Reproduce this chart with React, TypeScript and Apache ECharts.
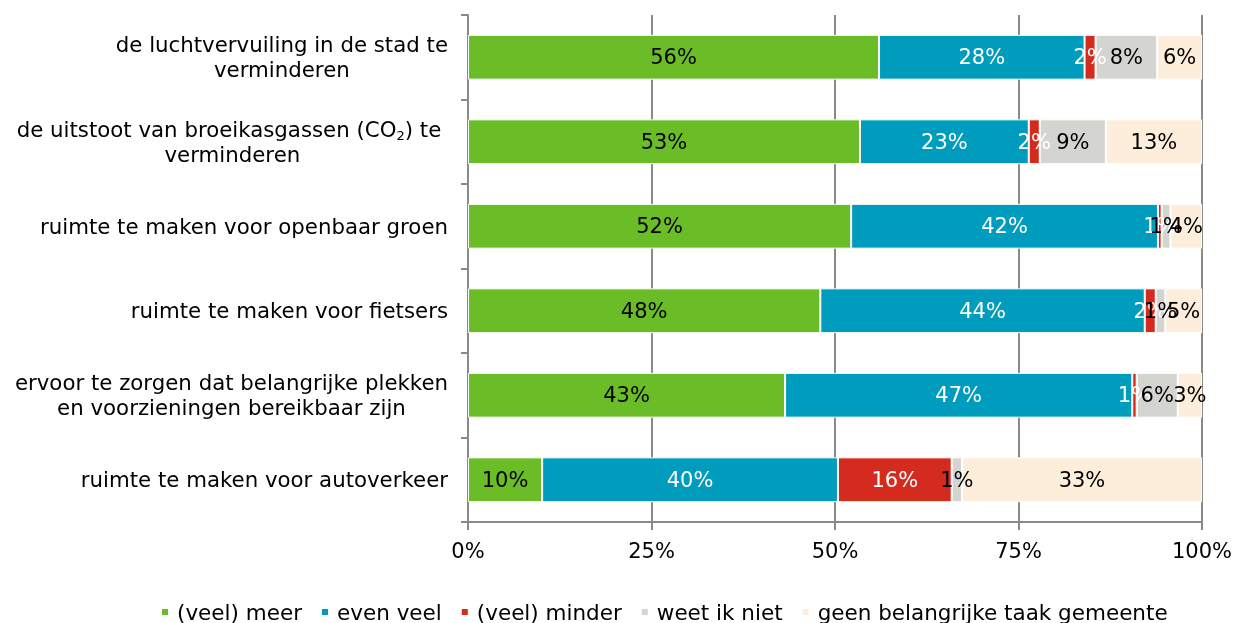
import React, { useEffect, useRef } from "react";
import * as echarts from "echarts";

const categories = [
  "de luchtvervuiling in de stad te\nverminderen",
  "de uitstoot van broeikasgassen (CO₂) te \nverminderen",
  "ruimte te maken voor openbaar groen",
  "ruimte te maken voor fietsers",
  "ervoor te zorgen dat belangrijke plekken\nen voorzieningen bereikbaar zijn",
  "ruimte te maken voor autoverkeer",
];

const seriesNames = [
  "(veel) meer",
  "even veel",
  "(veel) minder",
  "weet ik niet",
  "geen belangrijke taak gemeente",
];

const veelMeer = [56, 53.4, 52.2, 48, 43.2, 10.1];
const evenVeel = [28, 23, 41.8, 44.2, 47.3, 40.3];
const veelMinder = [1.5, 1.5, 0.5, 1.5, 0.6, 15.5];
const weetNiet = [8.4, 9, 1.2, 1.3, 5.6, 1.4];
const geenTaak = [6.1, 13.1, 4.3, 5, 3.3, 32.7];

const xTicks = [0, 25, 50, 75, 100];

const colors = ["#6bbd28", "#009cbd", "#d52b1e", "#d4d4d0", "#fdeddb"];
const labelColors = ["#000", "#fff", "#fff", "#000", "#000"];

const FONT = "DejaVu Sans, Verdana, sans-serif";

export default function App() {
  const ref = useRef<HTMLDivElement>(null);
  useEffect(() => {
    if (!ref.current) return;
    const chart = echarts.init(ref.current, undefined, { renderer: "svg" });
    const data = [veelMeer, evenVeel, veelMinder, weetNiet, geenTaak];
    chart.setOption({
      animation: false,
      textStyle: { fontFamily: FONT },
      grid: { left: 468, right: 34, top: 15, bottom: 101 },
      legend: {
        left: 155,
        top: 596,
        itemWidth: 8,
        itemHeight: 8,
        itemGap: 18,
        icon: "rect",
        textStyle: { fontSize: 21.5, color: "#000", fontFamily: FONT, padding: [0, 0, 0, 3] },
        data: seriesNames,
      },
      xAxis: {
        type: "value",
        min: xTicks[0],
        max: xTicks[xTicks.length - 1],
        interval: 25,
        axisLine: { show: true, lineStyle: { color: "#8a8a8a", width: 2 } },
        axisTick: { show: true, length: 8, lineStyle: { color: "#8a8a8a", width: 2 } },
        splitLine: { show: true, lineStyle: { color: "#8a8a8a", width: 2 } },
        axisLabel: {
          formatter: "{value}%",
          fontSize: 21,
          color: "#000",
          fontFamily: FONT,
          margin: 18,
        },
      },
      yAxis: {
        type: "category",
        inverse: true,
        data: categories,
        axisLine: { show: true, lineStyle: { color: "#8a8a8a", width: 2 } },
        axisTick: { show: true, length: 7, lineStyle: { color: "#8a8a8a", width: 2 } },
        axisLabel: {
          margin: 20,
          formatter: (v: string) =>
            v
              .split("\n")
              .map((line) => {
                const i = line.indexOf("₂");
                if (i < 0) return `{a|${line}}`;
                return `{a|${line.slice(0, i)}}{s|2}{a|${line.slice(i + 1)}}`;
              })
              .join("\n"),
          rich: {
            a: { fontSize: 21.3, lineHeight: 25, align: "center", color: "#000", fontFamily: FONT },
            s: { fontSize: 13, align: "center", verticalAlign: "bottom", color: "#000", fontFamily: FONT },
          },
        },
      },
      series: seriesNames.map((name, k) => ({
        name,
        type: "bar",
        stack: "total",
        barWidth: "53%",
        data: data[k],
        itemStyle: { color: colors[k], borderColor: "#fff", borderWidth: 1 },
        label: {
          show: true,
          position: "inside",
          color: labelColors[k],
          fontSize: 21,
          fontFamily: FONT,
          formatter: (p: any) => `${Math.round(p.value)}%`,
        },
      })),
    });
    return () => chart.dispose();
  }, []);
  return (
    <div
      ref={ref}
      style={{ position: "fixed", left: 0, top: 0, width: 1236, height: 623 }}
    />
  );
}
